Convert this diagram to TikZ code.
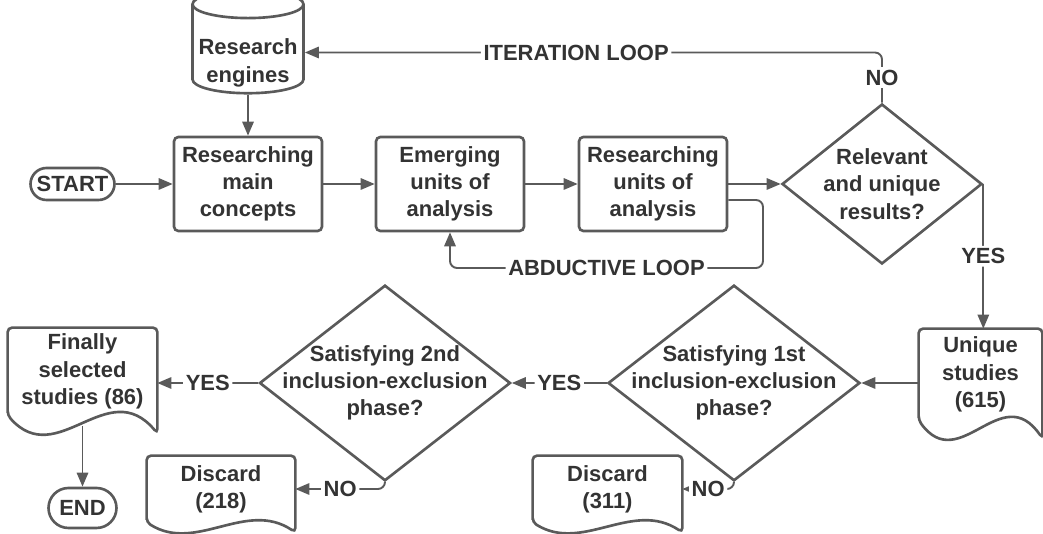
\documentclass[tikz,border=0pt]{standalone}
\usepackage{fontspec}
\setmainfont{Liberation Sans}
\usetikzlibrary{positioning,shapes.geometric,shapes.misc,arrows.meta}
\definecolor{linegray}{HTML}{5A5A5A}
\definecolor{txtgray}{HTML}{333333}

\begin{document}
\begin{tikzpicture}[
    font=\bfseries\fontsize{12.5}{15.5}\selectfont, text=txtgray,
    box/.style={draw=linegray, line width=1.5pt, rounded corners=2.5pt, align=center,
                minimum width=2.96cm, minimum height=1.88cm},
    term/.style={draw=linegray, line width=1.5pt, rounded rectangle, inner sep=2pt},
    decision/.style={draw=linegray, line width=1.5pt, diamond, align=center, inner sep=-12pt},
    doc/.style={align=center, inner sep=0pt},
    docline/.style={draw=linegray, line width=1.5pt, rounded corners=2.5pt},
    conn/.style={draw=linegray, line width=1.1pt, rounded corners=4pt,
                 -{Triangle[length=8pt,width=6.5pt]}},
    lbl/.style={fill=white, inner sep=1.5pt}]
    \useasboundingbox (0,0) rectangle (20.86,10.68);

    % top row
    \node[cylinder, shape border rotate=90, aspect=0.25, draw=linegray, line width=1.5pt,
          minimum width=2.22cm, minimum height=1.78cm] (eng) at (4.96,9.63)
          {\raisebox{-6pt}[\height][\depth]{\begin{tabular}{@{}c@{}}Research\\engines\end{tabular}}};
    \node[term, minimum width=1.82cm, minimum height=0.64cm] (start) at (1.45,7.0) {START};
    \node[box] (rmain) at (4.96,7.0) {Researching\\main\\concepts};
    \node[box] (emerg) at (9.0,7.0) {Emerging\\units of\\analysis};
    \node[box] (runits) at (13.06,7.0) {Researching\\units of\\analysis};
    \node[decision, minimum width=4cm, minimum height=3.2cm] (relev) at (17.64,7.0) {Relevant\\and unique\\results?};

    % bottom row
    \node[doc, minimum width=2.46cm, minimum height=1.82cm] (uniq) at (19.61,3.19) {Unique\\studies\\(615)};
    \node[decision, minimum width=5.04cm, minimum height=3.54cm] (first) at (14.68,3.02) {Satisfying 1st\\inclusion-exclusion\\phase?};
    \node[decision, minimum width=5.02cm, minimum height=3.54cm] (second) at (7.70,3.02) {Satisfying 2nd\\inclusion-exclusion\\phase?};
    \node[doc, minimum width=2.98cm, minimum height=1.74cm] (final) at (1.65,3.25) {Finally\\selected\\studies (86)};
    \node[term, minimum width=1.5cm, minimum height=0.8cm] (stop) at (1.65,0.52) {END};
    \node[doc, minimum width=2.96cm, minimum height=1.32cm] (disc2) at (4.42,0.9) {Discard\\(218)};
    \node[doc, minimum width=2.98cm, minimum height=1.32cm] (disc1) at (12.15,0.9) {Discard\\(311)};

    % document outlines (wavy bottom)
    \foreach \n/\w/\d in {uniq/2.46/0.36, final/2.98/0.36, disc2/2.96/0.2, disc1/2.98/0.2}
      \draw[docline] (\n.south west) -- (\n.north west) -- (\n.north east) -- ([yshift=-\d cm]\n.south east)
        .. controls +({-\w/3},{3.3*\d}) and +({\w/3},{-3.1*\d}) .. (\n.south west) -- cycle;

    \coordinate (abd) at (15.26,5.32);

    \draw[conn] (eng.south) -- (rmain.north);
    \draw[conn] (start) -- (rmain);
    \draw[conn] (rmain) -- (emerg);
    \draw[conn] (emerg) -- (runits);
    \draw[conn] (runits) -- (relev);
    \draw[conn] (relev.north) -- node[lbl]{NO} (relev.north |- eng.east)
        -- node[lbl, pos=0.53]{ITERATION LOOP} (eng.east);
    \draw[conn] ([yshift=-0.32cm]runits.east) -| (abd)
        -- node[lbl]{ABDUCTIVE LOOP} (abd -| emerg.south) -- (emerg.south);
    \draw[conn] (relev.east) -- node[lbl]{YES} (relev.east |- uniq.north);
    \draw[conn] (uniq.west |- first.east) -- (first.east);
    \draw[conn] (first.west) -- node[lbl]{YES} (second.east);
    \draw[conn] (second.west) -- node[lbl]{YES} (final.east |- second.west);
    \draw[conn] (first.south) |- node[lbl, pos=0.75]{NO} (disc1.east);
    \draw[conn] (second.south) |- node[lbl, pos=0.75]{NO} (disc2.east);
    \draw[conn] ([yshift=-0.22cm]final.south) -- (stop.north);
\end{tikzpicture}
\end{document}
